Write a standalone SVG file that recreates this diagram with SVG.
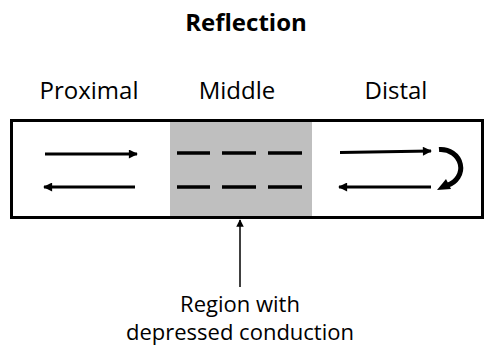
<svg xmlns="http://www.w3.org/2000/svg" width="486" height="346" viewBox="0 0 486 346">
<defs>
<marker id="ah" viewBox="0 0 10 10" refX="9" refY="5" markerWidth="3.6" markerHeight="3" orient="auto" markerUnits="strokeWidth"><path d="M0,0 L10,5 L0,10 z" fill="#000"/></marker>
<marker id="ahs" viewBox="0 0 10 10" refX="9" refY="5" markerWidth="5" markerHeight="5" orient="auto" markerUnits="strokeWidth"><path d="M0,0 L10,5 L0,10 z" fill="#000"/></marker>
</defs>
<style>
text{font-family:"Open Sans","Noto Sans","Liberation Sans",sans-serif;fill:#000}
.lbl{font-size:24px}
.note{font-size:22px}
.arr{stroke:#000;stroke-width:3;fill:none;marker-end:url(#ah)}
.dash{stroke:#000;stroke-width:3.5}
</style>
<rect width="486" height="346" fill="#fff"/>
<text x="246" y="31" text-anchor="middle" font-size="24" font-weight="bold">Reflection</text>
<text class="lbl" x="89" y="99" text-anchor="middle">Proximal</text>
<text class="lbl" x="237" y="99" text-anchor="middle">Middle</text>
<text class="lbl" x="396" y="99" text-anchor="middle">Distal</text>
<g id="segment">
<rect x="11.5" y="120.5" width="471" height="97" fill="#fff" stroke="#000" stroke-width="3"/>
</g>
<g id="middle-region">
<rect x="170" y="122" width="142" height="94" fill="#bfbfbf"/>
<line class="dash" x1="177" y1="153" x2="210" y2="153"/>
<line class="dash" x1="222" y1="153" x2="256" y2="153"/>
<line class="dash" x1="268" y1="153" x2="302" y2="153"/>
<line class="dash" x1="177" y1="187" x2="210" y2="187"/>
<line class="dash" x1="222" y1="187" x2="256" y2="187"/>
<line class="dash" x1="268" y1="187" x2="302" y2="187"/>
</g>
<g id="connectors">
<line class="arr" x1="340" y1="152.5" x2="431" y2="151"/>
<line class="arr" x1="45" y1="154" x2="137" y2="154"/>
<line class="arr" x1="135" y1="187" x2="44" y2="187"/>
<line class="arr" x1="431" y1="187" x2="339" y2="187"/>
<path d="M439,149.5 A 20 18.5 0 0 1 447,185.5" stroke="#000" stroke-width="5" fill="none"/>
<polygon points="437,190 446,179 451,189" fill="#000"/>
<line x1="240" y1="287" x2="240" y2="220" stroke="#000" stroke-width="1.5" marker-end="url(#ahs)"/>
</g>
<text class="note" x="240" y="312" text-anchor="middle">Region with</text>
<text class="note" x="240" y="340" text-anchor="middle">depressed conduction</text>
</svg>
